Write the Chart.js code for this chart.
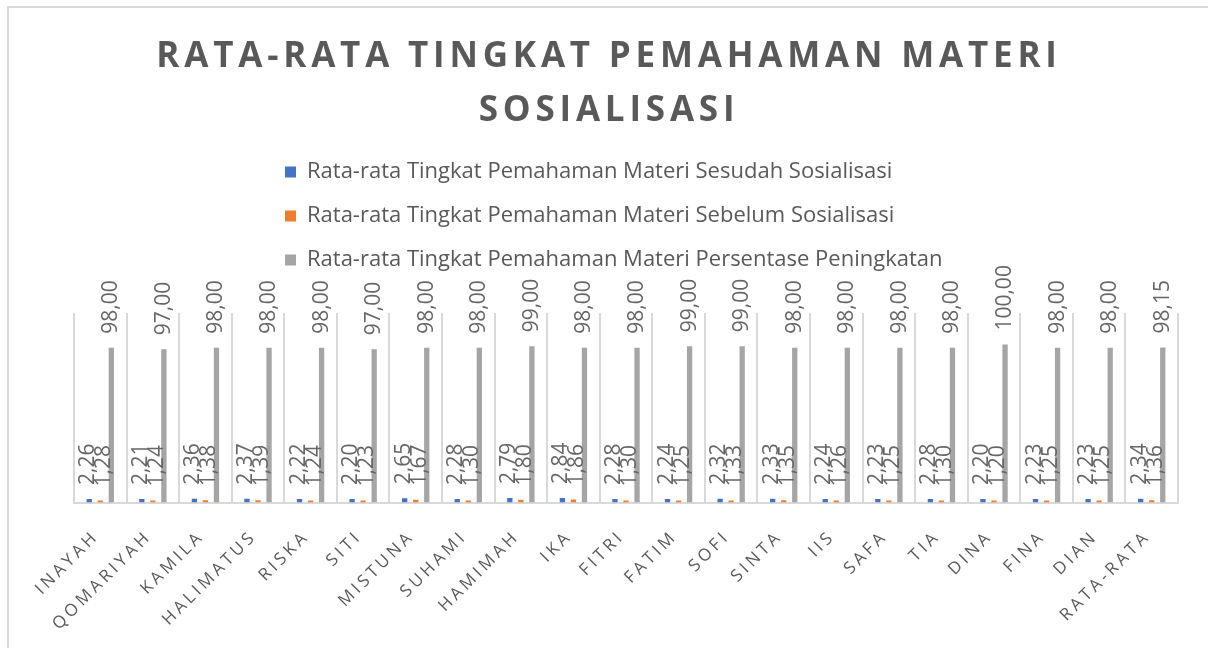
<!DOCTYPE html>
<html>
<head>
<meta charset="utf-8">
<script src="https://cdn.jsdelivr.net/npm/chart.js@4.4.1/dist/chart.umd.min.js"></script>
<style>
    html, body { margin: 0; padding: 0; background: #fff; }
    #wrap { position: relative; width: 1208px; height: 648px; overflow: hidden; }
    #frame { position: absolute; left: 7px; top: 6px; width: 1220px; height: 660px; border: 2px solid #d9d9d9; box-sizing: border-box; pointer-events: none; }
    canvas { position: absolute; left: 0; top: 0; }
</style>
</head>
<body>
<div id="wrap">
    <canvas id="chart" width="1208" height="648"></canvas>
    <div id="frame"></div>
</div>
<script>
"use strict";

/* data */
var categories = ['INAYAH', 'QOMARIYAH', 'KAMILA', 'HALIMATUS', 'RISKA', 'SITI', 'MISTUNA', 'SUHAMI', 'HAMIMAH', 'IKA', 'FITRI',
    'FATIM', 'SOFI', 'SINTA', 'IIS', 'SAFA', 'TIA', 'DINA', 'FINA', 'DIAN', 'RATA-RATA'];
var sesudah = [2.26, 2.21, 2.36, 2.37, 2.22, 2.20, 2.65, 2.28, 2.79, 2.84, 2.28,
    2.24, 2.32, 2.33, 2.24, 2.23, 2.28, 2.20, 2.23, 2.23, 2.34];
var sebelum = [1.28, 1.24, 1.38, 1.39, 1.24, 1.23, 1.67, 1.30, 1.80, 1.86, 1.30,
    1.25, 1.33, 1.35, 1.26, 1.25, 1.30, 1.20, 1.25, 1.25, 1.36];
var peningkatan = [98, 97, 98, 98, 98, 97, 98, 98, 99, 98, 98,
    99, 99, 98, 98, 98, 98, 100, 98, 98, 98.15];
var seriesNames = [
    'Rata-rata Tingkat Pemahaman Materi Sesudah Sosialisasi',
    'Rata-rata Tingkat Pemahaman Materi Sebelum Sosialisasi',
    'Rata-rata Tingkat Pemahaman Materi Persentase Peningkatan'
];
var titleLines = ['RATA-RATA TINGKAT PEMAHAMAN MATERI', 'SOSIALISASI'];

var textGrey = '#595959';

/* category axis whose labels get letter spacing */
class SpacedCategoryScale extends Chart.CategoryScale {
    drawLabels(chartArea) {
        var ctx = this.ctx;
        ctx.save();
        ctx.letterSpacing = '3.5px';
        super.drawLabels(chartArea);
        ctx.restore();
    }
}
SpacedCategoryScale.id = 'spacedCategory';
SpacedCategoryScale.defaults = Chart.CategoryScale.defaults;
Chart.register(SpacedCategoryScale);

/* title drawn with wide letter spacing like the excel one */
var spacedTitle = {
    id: 'spacedTitle',
    afterDraw: function (chart) {
        var ctx = chart.ctx;
        ctx.save();
        ctx.font = 'bold 35px "Open Sans"';
        ctx.letterSpacing = '4.8px';
        ctx.fillStyle = textGrey;
        ctx.textAlign = 'center';
        ctx.textBaseline = 'alphabetic';
        titleLines.forEach(function (line, i) {
            ctx.fillText(line, chart.width / 2 + 5, 67 + i * 54);
        });
        ctx.restore();
    }
};

/* legend: more room below it, rows left aligned in one column */
var legendTweak = {
    id: 'legendTweak',
    beforeInit: function (chart) {
        if (!chart.legend) return;
        var fit = chart.legend.fit;
        chart.legend.fit = function () {
            fit.call(this);
            this.height += 32;
        };
    },
    afterLayout: function (chart) {
        if (chart.legend) chart.legend.left = 263;
    }
};

/* vertical value labels above each bar */
var valueLabels = {
    id: 'valueLabels',
    afterDatasetsDraw: function (chart, args, opts) {
        var ctx = chart.ctx;
        ctx.save();
        ctx.font = '21px "Open Sans"';
        ctx.fillStyle = '#666666';
        ctx.textAlign = 'left';
        ctx.textBaseline = 'middle';
        chart.data.datasets.forEach(function (ds, di) {
            var meta = chart.getDatasetMeta(di);
            meta.data.forEach(function (bar, i) {
                var txt = ds.data[i].toFixed(2).replace('.', ',');
                ctx.save();
                ctx.translate(bar.x + opts.nudge[di], bar.y - opts.gap);
                ctx.rotate(-Math.PI / 2);
                ctx.fillText(txt, 0, 0);
                ctx.restore();
            });
        });
        ctx.restore();
    }
};

var ctx = document.getElementById('chart').getContext('2d');
var mychart = new Chart(ctx, {
    type: 'bar',
    data: {
        labels: categories,
        datasets: [{
            label: seriesNames[0],
            data: sesudah,
            backgroundColor: '#4472C4',
            borderWidth: 0
        }, {
            label: seriesNames[1],
            data: sebelum,
            backgroundColor: '#ED7D31',
            borderWidth: 0
        }, {
            label: seriesNames[2],
            data: peningkatan,
            backgroundColor: '#A5A5A5',
            borderWidth: 0
        }]
    },
    options: {
        responsive: false,
        animation: false,
        categoryPercentage: 0.63,
        barPercentage: 0.48,
        layout: {
            padding: { top: 139, left: 74, right: 30, bottom: 12 }
        },
        plugins: {
            title: { display: false },
            tooltip: { enabled: false },
            legend: {
                display: true,
                position: 'top',
                align: 'start',
                labels: {
                    color: textGrey,
                    font: { family: 'Open Sans', size: 22 },
                    boxWidth: 11,
                    boxHeight: 11,
                    padding: 22
                }
            },
            valueLabels: {
                gap: 14,
                nudge: [-1, 4, 0]
            }
        },
        scales: {
            x: {
                type: 'spacedCategory',
                grid: {
                    display: true,
                    offset: true,
                    drawTicks: false,
                    color: '#d9d9d9',
                    lineWidth: 2
                },
                border: { display: true, color: '#d9d9d9', width: 2 },
                ticks: {
                    autoSkip: false,
                    minRotation: 45,
                    maxRotation: 45,
                    padding: 24,
                    labelOffset: -4,
                    color: textGrey,
                    font: { family: 'Open Sans', size: 17 }
                }
            },
            y: {
                display: false,
                min: 0,
                max: 120
            }
        }
    },
    plugins: [spacedTitle, legendTweak, valueLabels]
});
</script>
</body>
</html>
